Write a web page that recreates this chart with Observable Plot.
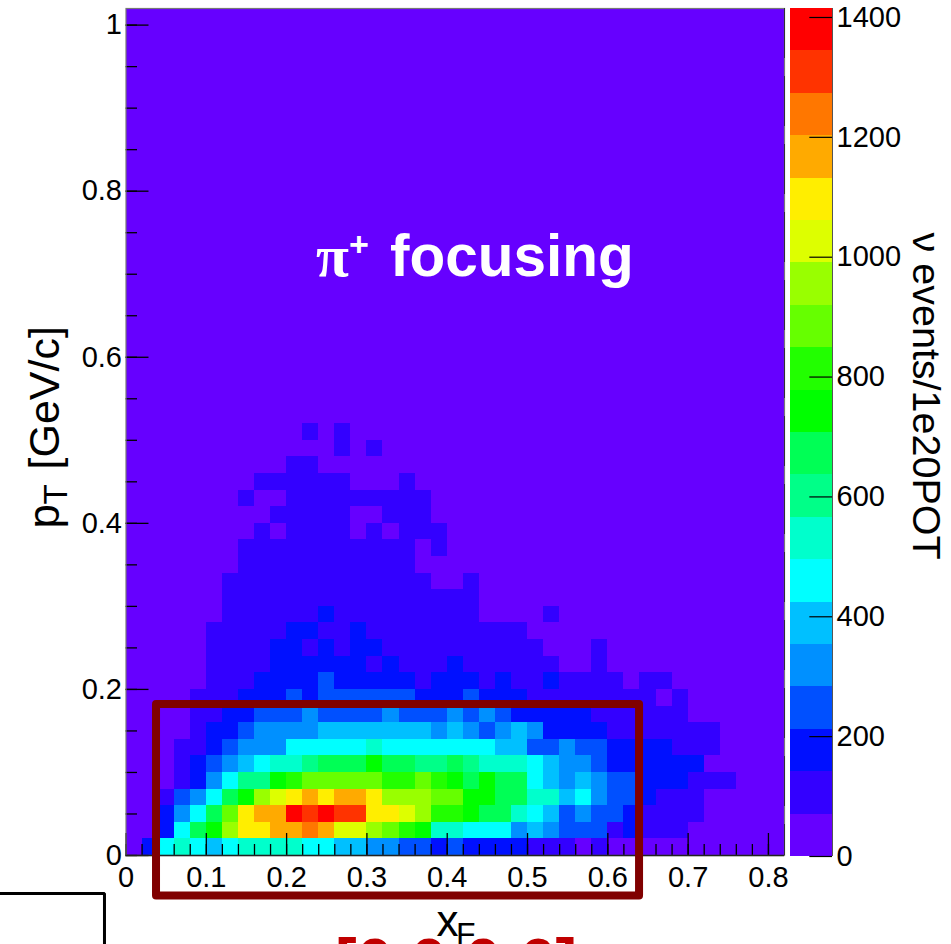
<!DOCTYPE html>
<html>
<head>
<meta charset="utf-8">
<style>
html,body{margin:0;padding:0;width:951px;height:944px;overflow:hidden;background:#fff}
#wrap{position:relative;width:951px;height:944px}
#wrap svg{position:absolute;left:0;top:0;background:transparent;overflow:hidden}
</style>
<script src="https://cdn.jsdelivr.net/npm/d3@7"></script>
<script src="https://cdn.jsdelivr.net/npm/@observablehq/plot@0.6"></script>
</head>
<body>
<div id="wrap"></div>
<script>
// colour-band index (0 = lowest band of the palette) per xF bin, one list per pT row from pT = 0 upward
const row00=[0,2,6,7,6,5,6,7,7,7,7,6,6,5,5,4,4,3,3,2,3,2,2,2,2,1,1,1,0,1];
const row01=[0,0,2,6,9,10,13,15,15,16,16,17,16,14,14,13,12,11,10,7,7,6,6,6,4,5,4,3,3,3,1,2,1,1,1];
const row02=[0,0,2,4,6,9,12,15,16,16,19,18,19,18,18,15,15,14,13,11,11,10,9,9,7,6,5,3,4,3,3,2,1,1,1,1];
const row03=[0,0,1,3,4,6,9,10,13,14,15,16,15,16,16,15,13,13,13,12,12,10,10,9,9,7,7,5,6,4,3,3,2,1,1,1];
const row04=[0,0,0,1,2,4,6,8,8,10,11,12,12,12,12,12,11,11,12,11,10,9,10,9,9,6,5,4,5,4,3,3,2,2,2,1,1,1];
const row05=[0,0,0,1,2,3,4,5,6,7,7,8,9,9,9,10,9,9,8,8,9,8,7,7,7,6,5,4,4,3,2,2,2,2,2,2];
const row06=[0,0,0,1,1,2,3,4,4,4,6,6,6,6,6,7,6,6,6,6,6,6,6,5,5,3,3,4,3,3,2,2,2,2,1,1,1];
const row07=[0,0,0,0,1,2,2,3,4,4,4,4,5,5,5,5,5,5,5,4,5,4,3,4,5,4,2,2,2,2,1,1,1,1,1,1,1];
const row08=[0,0,0,0,1,1,2,2,3,3,3,4,3,3,3,3,4,3,3,3,4,3,4,3,2,2,2,2,2,1,1,1,1,1,1];
const row09=[0,0,0,0,1,1,1,2,2,2,3,2,3,3,3,3,3,3,2,2,2,3,2,2,2,1,1,1,1,1,1,1,1,0,1];
const row10=[0,0,0,0,0,1,1,1,2,2,2,2,3,2,2,2,2,2,1,2,2,2,1,2,1,1,2,1,1,1,1,0,1,1];
const row11=[0,0,0,0,0,1,1,1,1,2,2,2,2,2,2,1,2,1,1,1,2,1,1,1,1,1,1,0,0,1];
const row12=[0,0,0,0,0,1,1,1,1,2,2,1,2,1,2,2,1,1,1,1,1,1,1,1,1,1,0,0,0,1];
const row13=[0,0,0,0,0,1,1,1,1,1,2,2,1,1,2,1,1,1,1,1,1,1,1,1,1];
const row14=[0,0,0,0,0,0,1,1,1,1,1,1,2,1,1,1,1,1,1,1,1,1,0,0,0,0,1];
const row15=[0,0,0,0,0,0,1,1,1,1,1,1,1,1,1,1,1,1,1,1,1,1];
const row16=[0,0,0,0,0,0,1,1,1,1,1,1,1,1,1,1,1,1,1,0,0,1];
const row17=[0,0,0,0,0,0,0,1,1,1,1,1,1,1,1,1,1,1];
const row18=[0,0,0,0,0,0,0,1,1,1,1,1,1,1,1,1,1,1,0,1];
const row19=[0,0,0,0,0,0,0,0,1,0,1,1,1,1,0,1,0,1,1,1];
const row20=[0,0,0,0,0,0,0,0,0,1,1,1,1,1,0,0,1,1,1];
const row21=[0,0,0,0,0,0,0,1,0,0,1,1,1,1,1,1,1,1,1];
const row22=[0,0,0,0,0,0,0,0,1,1,1,1,1,1,0,0,0,1];
const row23=[0,0,0,0,0,0,0,0,0,0,1,1];
const row24=[0,0,0,0,0,0,0,0,0,0,0,0,0,1,0,1];
const row25=[0,0,0,0,0,0,0,0,0,0,0,1,0,1];
const rows=[row00,row01,row02,row03,row04,row05,row06,row07,row08,row09,row10,row11,row12,
            row13,row14,row15,row16,row17,row18,row19,row20,row21,row22,row23,row24,row25];

const palette=["#6600ff","#3300ff","#0010ff","#0050ff","#0090ff","#00c0ff","#00ffff","#00ffcc","#00ff88","#00ff55",
               "#00ff00","#22ff00","#66ff00","#99ff00","#ddff00","#ffee00","#ffaa00","#ff7700","#ff3300","#ff0000"];
const bandWidth=70.75;
const zMax=1415;
const binSize=0.02;
const xMax=0.82, yMax=1.02;

const xMajor=[0,0.1,0.2,0.3,0.4,0.5,0.6,0.7,0.8];
const xMinor=d3.range(0,41).map(i=>i*binSize);
const yMajor=[0,0.2,0.4,0.6,0.8,1];
const yMinor=d3.range(0,21).map(i=>i*0.05);
const zTicks=[0,200,400,600,800,1000,1200,1400];

const colorScale={type:"threshold",domain:palette.slice(1).map((_,i)=>(i+1)*bandWidth),range:palette};
const cells=[];
for(let r=0;r<Math.round(yMax/binSize);r++){
  for(let c=0;c<Math.round(xMax/binSize);c++){
    const lev=(rows[r]&&rows[r][c])||0;
    cells.push({x1:c*binSize,x2:(c+1)*binSize,y1:r*binSize,y2:(r+1)*binSize,v:(lev+0.5)*bandWidth});
  }
}
const bands=palette.map((_,i)=>({z1:i*bandWidth,z2:(i+1)*bandWidth,v:(i+0.5)*bandWidth}));
const font="'Liberation Sans',Arial,sans-serif";
const sz=29;
// pixels to axis units, for the tick lengths
const pxX=1/803, pxY=1/830.7;

const main=Plot.plot({
  width:951,height:944,
  marginLeft:125.5,marginRight:167,marginTop:8,marginBottom:89,
  style:{fontFamily:font,background:"transparent"},
  x:{domain:[0,xMax],label:null},
  y:{domain:[0,yMax],label:null},
  color:colorScale,
  marks:[
    Plot.rect(cells,{x1:"x1",x2:"x2",y1:"y1",y2:"y2",fill:"v",shapeRendering:"crispEdges"}),
    Plot.ruleX(xMinor,{y1:0,y2:11*pxY,stroke:"#000",strokeWidth:1.3}),
    Plot.ruleX(xMajor,{y1:0,y2:22*pxY,stroke:"#000",strokeWidth:1.3}),
    Plot.ruleY(yMinor,{x1:0,x2:11.5*pxX,stroke:"#000",strokeWidth:1.3}),
    Plot.ruleY(yMajor,{x1:0,x2:23*pxX,stroke:"#000",strokeWidth:1.3}),
    Plot.axisX({ticks:xMajor,tickSize:0,tickPadding:11,fontSize:sz,tickFormat:d=>String(d),labelAnchor:"center",label:null,lineHeight:1}),
    Plot.axisY({ticks:yMajor,tickSize:0,tickPadding:4,fontSize:sz,tickFormat:d=>String(d),label:null}),
    Plot.frame({stroke:"#777",strokeWidth:1.2}),
    Plot.ruleY([0],{stroke:"#222",strokeWidth:1.4}),
    Plot.ruleX([xMax],{stroke:"#333",strokeWidth:1,strokeDasharray:"50 18"}),
    Plot.rect([{x1:0.038,x2:0.6395,y1:-0.0488,y2:0.1818}],{x1:"x1",x2:"x2",y1:"y1",y2:"y2",fill:"none",stroke:"#800000",strokeWidth:8,strokeLinejoin:"round"}),
    Plot.line([[-0.1563,-0.0457],[-0.0268,-0.0457],[-0.0268,-0.12]],{stroke:"#000",strokeWidth:3,strokeLinejoin:"miter",curve:"linear"}),
    // white annotation
    Plot.text(["π"],{frameAnchor:"top-left",dx:190,dy:267,textAnchor:"start",fill:"#fff",fontSize:60,fontWeight:"bold",fontFamily:"'Liberation Serif',serif",lineAnchor:"bottom"}),
    Plot.text(["+"],{frameAnchor:"top-left",dx:223,dy:247,textAnchor:"start",fill:"#fff",fontSize:34,fontWeight:"bold",lineAnchor:"bottom"}),
    Plot.text(["focusing"],{frameAnchor:"top-left",dx:264,dy:267,textAnchor:"start",fill:"#fff",fontSize:58.5,fontWeight:"bold",lineAnchor:"bottom"}),
    // x title and the clipped range label
    Plot.text(["x"],{frameAnchor:"top-left",dx:310.5,dy:927,textAnchor:"start",fill:"#000",fontSize:44,lineAnchor:"bottom"}),
    Plot.text(["F"],{frameAnchor:"top-left",dx:330,dy:936,textAnchor:"start",fill:"#000",fontSize:32,lineAnchor:"bottom"}),
    Plot.text(["[0.0,0.6]"],{frameAnchor:"top-left",dx:209,dy:975,textAnchor:"start",fill:"#c00000",fontSize:65,fontWeight:"bold",lineAnchor:"bottom"}),
    // y title
    Plot.text(["p"],{frameAnchor:"top-left",dx:-67,dy:520,rotate:-90,textAnchor:"start",fill:"#000",fontSize:44,lineAnchor:"bottom"}),
    Plot.text(["T"],{frameAnchor:"top-left",dx:-59,dy:496,rotate:-90,textAnchor:"start",fill:"#000",fontSize:33,lineAnchor:"bottom"}),
    Plot.text(["[GeV/c]"],{frameAnchor:"top-left",dx:-67,dy:461,rotate:-90,textAnchor:"start",fill:"#000",fontSize:43,lineAnchor:"bottom"})
  ]
});

const bar=Plot.plot({
  width:951,height:944,
  marginLeft:790,marginRight:119,marginTop:8,marginBottom:88,
  style:{fontFamily:font,background:"transparent"},
  x:{domain:[0,1],axis:null},
  y:{domain:[0,zMax],axis:null},
  color:colorScale,
  marks:[
    Plot.rect(bands,{x1:0,x2:1,y1:"z1",y2:"z2",fill:"v",shapeRendering:"crispEdges"}),
    Plot.ruleY(zTicks,{x1:0.46,x2:1,stroke:"#000",strokeWidth:1.2}),
    Plot.ruleX([1],{stroke:"#555",strokeWidth:1}),
    Plot.axisY({anchor:"right",ticks:zTicks,tickSize:0,tickPadding:4,fontSize:sz,tickFormat:d=>String(d),label:null}),
    Plot.text(["ν events/1e20POT"],{frameAnchor:"top-left",dx:122,dy:224,rotate:90,textAnchor:"start",fill:"#000",fontSize:39.5,lineAnchor:"bottom"})
  ]
});

document.getElementById("wrap").append(main,bar);
</script>
</body>
</html>
